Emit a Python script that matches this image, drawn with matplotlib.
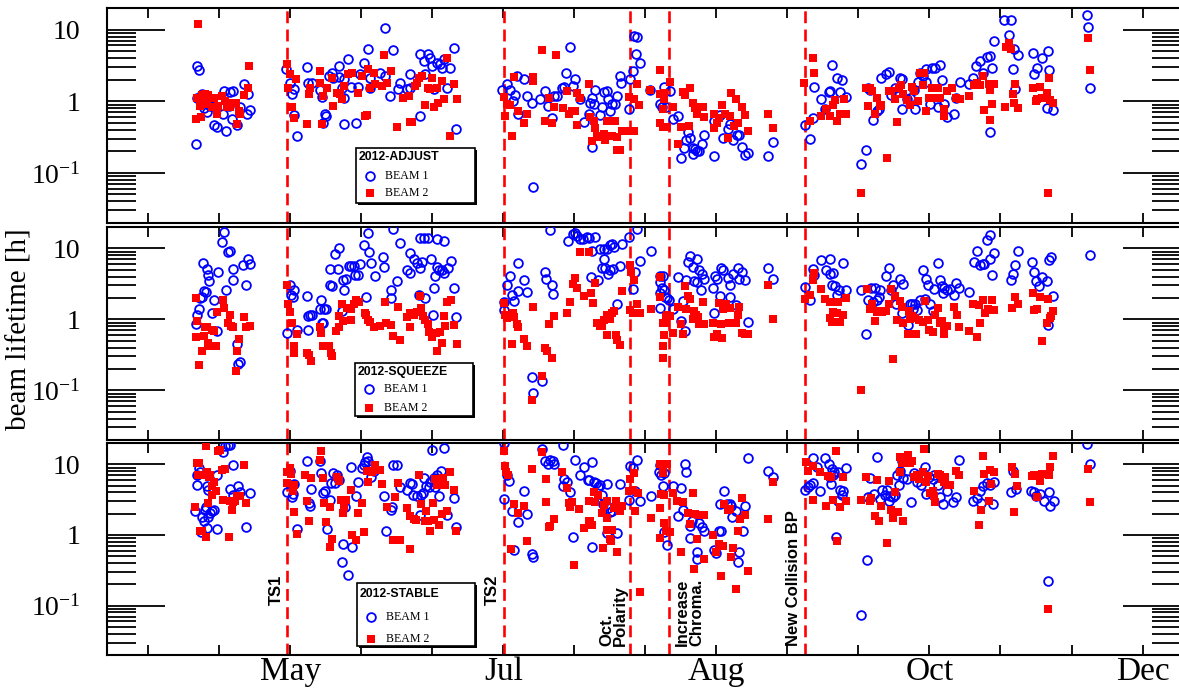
import numpy as np
import matplotlib
matplotlib.use("Agg")
import matplotlib.pyplot as plt
from matplotlib.lines import Line2D
from matplotlib.patches import Rectangle
from matplotlib.ticker import LogLocator, NullFormatter
import matplotlib.transforms as mtransforms

plt.rcParams['font.family'] = ['Liberation Serif', 'DejaVu Serif']
plt.rcParams['mathtext.fontset'] = 'custom'
plt.rcParams['mathtext.rm'] = 'Liberation Serif'
plt.rcParams['mathtext.it'] = 'Liberation Serif:italic'

# x is day of year 2012, y is beam lifetime in hours
grid_ticks = list(range(105, 320, 15))
month_ticks = [135, 180, 225, 270, 315]
month_labels = ['May', 'Jul', 'Aug', 'Oct', 'Dec']

event_days = [134.3, 180.1, 206.7, 214.9, 243.7]
event_labels = ['TS1', 'TS2', 'Oct.\nPolarity', 'Increase\nChroma.', 'New Collision BP']

panel_titles = ['2012-ADJUST', '2012-SQUEEZE', '2012-STABLE']

ADJUST_B1 = [
    (115.4, 3.1), (115.8, 2.7), (115.3, 1.12), (116.3, 1.25), (117.0, 1.2), (118.4, 0.86), (118.9, 0.47),
    (119.5, 0.44), (115.1, 0.25), (120.9, 0.66), (121.5, 0.39), (121.0, 1.39), (122.2, 1.35), (123.0, 1.4),
    (122.7, 0.57), (123.7, 0.47), (124.3, 0.82), (125.3, 1.76), (126.0, 1.28), (125.8, 0.67), (126.5, 0.75),
    (118.1, 0.85), (116.7, 0.8), (117.4, 0.7), (122.0, 0.85),
    (134.1, 2.86), (135.0, 1.82), (135.3, 1.28), (135.8, 1.47), (135.7, 0.64), (136.4, 0.33), (138.5, 3.05),
    (138.7, 1.82), (139.6, 1.82), (141.3, 1.42), (141.7, 1.15), (142.4, 0.67), (142.6, 0.62), (142.0, 0.5),
    (143.1, 2.26), (143.8, 2.5), (144.1, 2.14), (145.2, 3.1), (145.4, 2.18), (146.3, 2.03), (145.9, 1.55),
    (146.4, 1.12), (147.3, 3.85), (147.8, 1.6), (149.4, 1.6), (146.3, 0.48), (148.9, 0.5), (149.8, 2.38),
    (150.6, 3.46), (151.5, 5.3), (151.9, 2.14), (151.9, 1.55), (155.1, 10.4), (156.7, 5.15), (154.0, 2.5),
    (155.1, 2.26), (156.1, 1.19), (157.7, 1.47), (158.2, 1.82), (159.6, 1.47), (160.2, 1.55), (160.3, 2.38),
    (162.3, 0.62), (162.5, 4.5), (163.2, 3.65), (164.0, 4.6), (164.6, 4.07), (164.9, 3.1), (165.3, 1.47),
    (166.0, 3.46), (166.7, 3.28), (167.0, 2.95), (167.4, 3.85), (168.1, 1.55), (168.8, 2.89), (169.5, 5.5),
    (170.1, 0.41), (163.5, 2.38),
    (179.7, 1.42), (180.8, 1.76), (181.5, 1.42), (182.0, 1.0), (182.5, 1.23), (182.9, 2.26), (183.2, 0.67),
    (184.3, 2.03), (185.0, 1.19), (186.0, 0.96), (186.3, 0.064), (187.8, 1.07), (188.9, 1.39), (189.4, 0.86),
    (190.3, 0.58), (190.6, 1.19), (191.3, 1.19), (192.4, 1.55), (192.9, 1.58), (193.3, 2.5), (194.1, 5.7),
    (194.8, 1.64), (195.2, 2.03), (196.3, 1.07), (197.0, 0.52), (198.0, 0.67), (198.4, 0.96), (198.7, 1.12),
    (199.4, 1.42), (199.1, 0.91), (198.7, 0.23), (200.5, 0.64), (200.8, 0.83), (201.3, 1.36), (201.9, 1.39),
    (202.2, 1.07), (202.6, 0.73), (202.9, 0.91), (203.6, 0.91), (204.0, 1.19), (204.6, 2.26), (204.8, 1.82),
    (206.5, 0.77), (206.8, 2.03), (207.4, 2.65), (207.7, 8.2), (208.2, 7.9), (208.1, 4.6), (208.8, 3.46),
    (211.0, 1.42), (213.1, 0.91), (213.5, 0.82), (214.0, 1.6), (214.4, 0.82), (215.2, 1.39), (215.9, 0.56),
    (216.8, 0.62), (217.5, 0.16), (218.1, 0.226), (218.6, 0.285), (219.1, 0.37), (219.5, 0.31), (220.0, 0.226),
    (220.0, 0.186), (220.5, 0.214), (221.0, 0.2), (221.4, 0.2), (221.9, 0.25), (222.3, 0.34), (224.4, 0.17),
    (224.5, 0.53), (225.8, 0.64), (226.5, 0.31), (227.4, 0.41), (227.9, 0.48), (228.6, 0.285), (229.3, 0.34),
    (229.7, 0.34), (230.4, 0.23), (231.1, 0.18), (231.6, 0.19), (236.0, 0.17), (236.9, 0.27), (243.8, 0.47),
    (244.7, 0.30), (245.4, 0.58), (245.7, 1.6), (247.1, 1.07), (248.0, 0.77), (248.7, 1.36), (248.9, 1.39),
    (249.4, 3.21), (250.5, 2.09), (251.2, 1.36), (251.6, 1.96), (252.4, 1.15), (255.5, 0.132), (256.7, 0.21),
    (257.1, 1.55), (257.5, 1.42), (258.1, 0.54), (258.9, 0.73), (259.3, 0.77), (259.7, 2.09), (260.9, 2.38),
    (261.4, 2.6), (261.9, 1.23), (262.8, 1.55), (263.7, 2.14), (264.2, 2.03), (264.2, 0.77), (265.2, 1.07),
    (265.9, 1.12), (266.8, 1.42), (267.0, 0.77), (267.5, 1.88), (268.1, 2.5), (268.6, 2.26), (269.3, 2.8),
    (269.3, 1.88), (270.2, 0.91), (270.6, 2.95), (271.2, 2.95), (271.7, 0.82), (272.3, 3.21), (272.6, 1.96),
    (273.1, 0.91), (273.8, 0.6), (275.1, 0.66), (275.7, 1.12), (276.4, 1.88), (278.3, 1.73), (279.3, 2.14),
    (279.9, 3.1), (280.7, 3.65), (281.4, 2.5), (282.1, 4.15), (282.7, 4.3), (283.2, 2.95), (282.7, 0.37),
    (283.7, 6.9), (285.8, 13.5), (287.2, 13.5), (286.8, 8.4), (287.9, 5.3), (288.6, 4.43), (287.6, 2.86),
    (288.1, 1.47), (291.9, 4.77), (292.1, 2.43), (292.7, 2.95), (293.8, 4.07), (295.0, 5.0), (295.2, 2.7),
    (294.8, 0.8), (296.1, 0.75), (303.3, 16.0), (303.4, 10.7), (304.0, 1.55),
]

ADJUST_B2 = [
    (115.5, 11.9), (115.1, 0.57), (115.3, 1.12), (116.3, 1.22), (117.0, 1.28), (117.7, 1.22), (116.0, 0.86),
    (116.7, 1.0), (117.4, 0.91), (118.1, 1.12), (118.8, 1.12), (118.4, 0.82), (119.5, 0.67), (119.8, 0.86),
    (120.5, 1.2), (121.3, 1.02), (121.7, 0.91), (122.3, 0.82), (122.7, 0.94), (123.6, 0.96), (123.7, 0.48),
    (124.1, 0.72), (124.4, 0.66), (125.3, 1.23), (126.0, 1.55), (126.3, 3.1), (116.2, 0.6), (121.6, 0.82),
    (134.3, 3.35), (135.0, 2.38), (134.6, 1.55), (135.3, 0.82), (135.8, 0.59), (136.3, 2.03), (138.5, 0.48),
    (138.9, 1.25), (139.2, 1.55), (141.3, 2.65), (141.7, 0.48), (141.2, 1.82), (142.0, 1.19), (142.7, 1.55),
    (143.8, 2.09), (144.1, 0.86), (144.8, 1.32), (145.6, 1.25), (145.9, 1.07), (146.3, 1.64), (147.3, 2.38),
    (148.0, 2.5), (149.4, 1.32), (150.1, 2.26), (150.8, 0.62), (151.2, 0.64), (151.5, 2.86), (151.9, 1.55),
    (152.6, 2.5), (152.9, 1.73), (154.7, 4.45), (154.4, 1.64), (155.4, 1.82), (156.3, 2.65), (157.5, 0.44),
    (158.9, 1.12), (160.0, 1.19), (160.3, 0.51), (160.7, 0.51), (161.4, 1.64), (161.8, 1.82), (162.1, 2.09),
    (162.8, 2.26), (163.5, 0.89), (164.0, 1.55), (164.6, 1.47), (164.9, 2.14), (165.3, 0.82), (166.0, 1.55),
    (166.3, 0.96), (167.0, 1.92), (167.5, 1.07), (168.1, 4.07), (168.8, 0.33), (169.6, 1.76), (170.2, 1.07),
    (180.2, 1.15), (180.4, 0.62), (180.8, 0.91), (181.5, 0.89), (181.8, 0.33), (182.3, 2.18), (183.2, 0.72),
    (184.3, 0.49), (185.0, 0.66), (186.3, 2.18), (186.3, 1.92), (188.2, 5.2), (188.9, 0.53), (189.6, 1.1),
    (190.3, 0.5), (190.6, 0.83), (191.2, 4.4), (192.7, 0.8), (193.4, 1.39), (193.8, 0.66), (194.5, 0.72),
    (195.2, 0.73), (195.5, 0.47), (195.5, 1.32), (196.3, 1.12), (198.0, 1.76), (198.4, 0.6), (198.7, 0.28),
    (199.2, 0.53), (199.4, 0.42), (199.8, 0.33), (200.5, 0.32), (201.2, 0.35), (201.5, 0.29), (201.9, 0.53),
    (202.6, 0.53), (202.9, 0.33), (203.6, 0.53), (204.0, 0.21), (204.7, 0.21), (204.1, 0.32), (205.1, 0.39),
    (206.5, 1.15), (206.8, 0.39), (207.5, 0.39), (208.2, 1.76), (208.6, 0.89), (207.5, 1.07),
    (211.0, 1.42), (213.0, 2.7), (213.1, 1.25), (213.1, 0.5), (213.7, 0.44), (214.0, 1.32), (214.0, 1.07),
    (213.8, 0.77), (214.5, 0.44), (215.1, 1.88), (215.9, 0.84), (216.8, 0.25), (217.5, 0.44), (217.9, 1.36),
    (218.4, 1.23), (219.3, 0.45), (219.5, 1.55), (220.0, 0.94), (220.5, 0.8), (220.9, 0.66), (221.4, 0.83),
    (222.1, 0.83), (222.3, 0.6), (224.4, 0.66), (224.5, 0.42), (225.1, 0.5), (225.5, 0.58), (226.2, 0.89),
    (226.9, 0.66), (227.4, 0.31), (227.9, 0.62), (228.1, 1.32), (228.8, 0.45), (229.2, 1.07), (229.5, 0.5),
    (230.4, 0.82), (231.1, 0.64), (231.6, 0.39), (236.0, 0.66), (236.9, 0.43), (243.5, 1.82), (244.7, 0.53),
    (245.4, 4.07), (245.7, 2.5), (247.1, 0.62), (248.2, 0.77), (249.0, 0.62), (249.7, 0.89), (250.1, 1.03),
    (250.5, 0.53), (251.2, 0.66), (251.9, 1.07), (252.4, 0.67), (255.5, 0.052), (256.7, 1.55), (257.4, 1.52),
    (257.1, 0.86), (257.8, 1.39), (258.5, 0.67), (259.0, 1.1), (259.5, 0.86), (259.7, 0.89), (261.0, 0.164),
    (261.4, 1.39), (261.9, 1.39), (262.8, 1.07), (263.1, 0.52), (263.5, 1.55), (264.0, 1.69), (264.5, 1.25),
    (265.2, 1.03), (265.8, 0.88), (266.3, 1.58), (266.8, 1.39), (267.5, 1.0), (267.9, 2.5), (268.6, 1.69),
    (268.9, 2.5), (269.3, 0.72), (270.0, 1.1), (270.5, 1.55), (271.2, 1.1), (271.7, 1.55), (272.3, 1.1),
    (273.0, 0.77), (273.1, 0.62), (273.8, 1.39), (274.7, 1.55), (275.7, 1.1), (276.4, 1.07), (278.3, 1.19),
    (279.5, 1.69), (280.0, 1.82), (280.7, 1.69), (281.4, 2.26), (281.6, 0.75), (282.7, 0.54), (282.7, 1.42),
    (283.2, 0.91), (282.5, 1.76), (283.7, 1.73), (286.0, 0.83), (286.2, 5.7), (286.9, 6.4), (287.2, 5.3),
    (287.6, 1.25), (287.9, 0.96), (288.1, 1.76), (288.6, 0.8), (291.9, 1.52), (292.4, 1.0), (292.7, 1.07),
    (293.4, 1.6), (293.8, 1.12), (294.8, 1.32), (295.2, 2.14), (295.5, 1.03), (296.1, 0.94), (295.0, 0.052),
    (303.4, 7.6), (304.0, 2.7),
]

SQUEEZE_B1 = [
    (115.1, 0.85), (115.3, 1.14), (115.8, 1.41), (116.0, 2.0), (116.3, 2.07), (116.7, 2.49), (117.2, 2.4),
    (116.5, 6.3), (117.4, 5.1), (117.7, 4.25), (117.9, 3.43), (118.9, 1.86), (118.4, 1.24), (119.6, 0.69),
    (119.8, 4.7), (120.6, 12.4), (121.0, 17.1), (121.8, 9.0), (122.3, 9.3), (121.5, 2.57), (122.9, 5.1),
    (122.9, 3.6), (123.7, 0.45), (123.9, 0.236), (124.3, 0.25), (125.7, 3.08), (125.1, 5.85), (126.0, 7.2),
    (126.5, 6.05),
    (134.3, 0.64), (134.9, 3.08), (135.1, 2.23), (135.8, 2.57), (135.6, 2.07), (136.4, 0.72), (138.5, 2.16),
    (138.7, 1.11), (139.2, 1.14), (139.6, 1.14), (138.7, 0.71), (141.3, 1.38), (141.5, 1.86), (142.2, 1.38),
    (142.6, 1.38), (141.7, 0.9), (142.0, 0.9), (143.4, 3.08), (143.8, 2.98), (143.3, 5.1), (144.5, 8.3),
    (145.2, 10.0), (145.0, 5.1), (146.1, 3.6), (146.4, 2.57), (145.9, 1.31), (146.8, 3.69), (147.5, 5.66),
    (147.8, 5.66), (148.4, 5.66), (148.7, 4.25), (149.4, 4.25), (149.8, 6.05), (150.6, 11.1), (151.4, 16.5),
    (151.7, 9.0), (152.0, 6.3), (152.9, 4.02), (151.0, 2.07), (154.6, 7.5), (154.9, 5.4), (156.7, 19.0),
    (157.5, 3.43), (156.3, 2.57), (156.3, 2.0), (158.2, 12.0), (159.6, 4.88), (160.3, 4.47), (160.2, 8.5),
    (161.2, 7.0), (161.8, 6.2), (162.3, 5.26), (162.8, 6.5), (162.5, 13.8), (163.3, 13.8), (164.0, 14.2),
    (164.7, 7.2), (165.3, 2.77), (165.1, 1.17), (165.6, 4.1), (166.0, 5.4), (166.1, 13.4), (166.5, 4.88),
    (167.0, 5.0), (167.5, 12.8), (167.5, 4.47), (168.4, 5.26), (168.9, 6.7), (169.6, 2.77), (170.1, 1.09),
    (162.1, 2.23), (163.5, 2.0),
    (180.1, 1.35), (180.2, 1.75), (180.8, 3.08), (181.5, 4.1), (181.8, 2.23), (182.3, 1.8), (183.0, 6.3),
    (183.2, 2.49), (184.3, 3.54), (185.1, 2.4), (186.0, 0.154), (186.3, 0.093), (188.2, 0.134), (188.9, 4.7),
    (189.1, 3.69), (189.8, 18.0), (190.3, 3.08), (190.5, 2.3), (193.6, 12.8), (194.7, 15.8), (195.2, 16.5),
    (195.5, 14.9), (196.3, 13.4), (196.8, 13.4), (197.7, 14.5), (198.0, 13.8), (199.4, 14.5), (198.7, 9.3),
    (198.5, 3.94), (199.9, 3.54), (200.5, 9.7), (201.2, 9.7), (201.3, 7.2), (201.9, 9.7), (202.5, 11.1),
    (202.9, 11.5), (203.3, 10.3), (204.0, 1.62), (204.7, 5.66), (205.1, 11.7), (200.8, 5.26), (201.5, 5.26),
    (202.2, 4.39), (202.6, 4.98), (203.2, 5.1), (206.5, 14.5), (207.4, 2.68), (207.9, 4.7), (208.2, 19.0),
    (208.8, 6.65),
    (211.2, 9.3), (213.0, 4.1), (213.7, 4.1), (213.0, 3.32), (213.1, 2.36), (213.5, 2.77), (214.0, 2.62),
    (214.2, 2.07), (214.5, 2.0), (214.9, 1.86), (213.0, 1.45), (215.9, 1.41), (216.8, 3.94), (217.5, 0.95),
    (217.9, 1.8), (218.4, 0.69), (218.6, 3.61), (219.1, 6.5), (219.5, 7.8), (220.0, 5.4), (220.3, 3.43),
    (220.9, 7.0), (221.0, 3.32), (221.4, 4.98), (221.7, 2.62), (221.9, 4.39), (222.3, 3.69), (224.3, 2.77),
    (224.5, 1.24), (224.7, 4.1), (225.2, 3.69), (225.8, 2.12), (225.9, 5.26), (226.5, 4.98), (227.4, 3.81),
    (227.8, 2.07), (227.9, 3.08), (228.5, 4.39), (229.2, 1.57), (229.5, 5.26), (229.7, 3.69), (230.4, 4.7),
    (231.1, 3.54), (231.6, 0.92), (236.0, 5.26), (236.9, 3.69), (243.8, 2.86), (244.7, 1.9), (245.4, 5.1),
    (245.7, 4.25), (247.1, 6.9), (248.2, 4.88), (248.9, 7.2), (249.0, 4.39), (249.6, 4.57), (249.4, 3.08),
    (250.1, 2.92), (250.5, 2.23), (251.0, 2.62), (251.7, 6.3), (252.4, 2.62), (255.5, 2.57), (256.7, 0.62),
    (257.1, 1.86), (257.6, 2.77), (258.1, 1.75), (258.5, 2.77), (259.0, 1.86), (259.3, 2.07), (259.6, 2.62),
    (260.9, 4.1), (261.4, 5.26), (261.9, 2.57), (262.4, 3.08), (263.0, 1.62), (263.7, 3.69), (264.5, 3.18),
    (264.2, 1.21), (265.4, 0.82), (265.8, 1.67), (266.3, 1.67), (266.5, 1.38), (267.0, 1.67), (267.3, 1.35),
    (267.9, 1.86), (268.6, 4.88), (269.1, 1.94), (269.3, 3.69), (269.6, 3.08), (270.2, 1.67), (270.7, 1.31),
    (271.0, 2.68), (271.7, 6.2), (272.3, 3.61), (272.6, 2.92), (272.8, 2.36), (273.1, 2.77), (273.7, 2.62),
    (274.3, 2.68), (275.1, 2.23), (275.7, 3.25), (276.2, 2.77), (278.3, 2.4), (279.5, 6.5), (280.0, 9.3),
    (280.6, 5.85), (281.3, 6.05), (281.6, 6.05), (282.1, 13.1), (282.7, 15.3), (282.8, 7.0), (283.2, 4.25),
    (283.7, 8.5), (287.2, 3.54), (287.6, 4.39), (288.1, 5.85), (288.6, 9.3), (291.7, 6.5), (292.1, 4.7),
    (292.6, 3.43), (293.1, 2.98), (293.8, 3.94), (294.8, 3.43), (295.0, 0.82), (295.2, 6.9), (295.7, 7.5),
    (296.1, 2.16), (304.0, 8.1),
]

SQUEEZE_B2 = [
    (115.1, 2.0), (115.4, 0.95), (115.1, 0.56), (116.3, 0.36), (116.7, 0.59), (117.0, 0.77), (117.7, 0.47),
    (117.9, 0.42), (118.4, 0.72), (118.9, 0.69), (119.4, 0.42), (119.5, 1.27), (120.8, 1.86), (121.0, 1.45),
    (121.8, 0.9), (122.2, 1.17), (122.5, 0.81), (123.7, 0.36), (124.1, 0.53), (123.6, 0.185), (123.0, 0.77),
    (125.3, 1.09), (125.7, 0.79), (126.4, 0.81), (115.8, 0.23), (117.4, 0.78),
    (134.3, 3.08), (134.6, 1.62), (135.0, 1.27), (135.3, 0.9), (135.8, 0.42), (135.8, 0.34), (136.4, 0.62),
    (138.5, 0.335), (138.9, 0.31), (139.4, 0.26), (141.3, 0.77), (141.5, 0.64), (141.9, 0.42), (142.6, 0.42),
    (143.1, 0.42), (143.6, 0.335), (143.8, 0.30), (144.7, 0.69), (145.2, 0.77), (145.2, 1.11), (145.9, 1.62),
    (146.1, 0.95), (147.0, 1.45), (147.8, 0.98), (147.8, 1.38), (148.4, 1.67), (148.9, 1.86), (149.6, 1.75),
    (150.8, 1.21), (151.0, 1.14), (151.5, 0.98), (151.9, 0.92), (152.6, 0.79), (154.0, 0.81), (155.1, 1.75),
    (155.3, 0.88), (156.3, 0.82), (156.7, 0.59), (157.7, 1.5), (158.2, 0.51), (159.6, 1.09), (160.3, 0.77),
    (160.3, 1.21), (161.2, 1.17), (161.8, 1.27), (162.3, 2.12), (162.6, 1.45), (163.0, 1.11), (163.5, 0.98),
    (164.0, 0.85), (164.4, 0.67), (164.9, 0.56), (165.3, 0.65), (165.8, 0.64), (166.0, 0.36), (166.7, 0.67),
    (167.0, 0.47), (167.5, 1.11), (167.7, 0.81), (168.1, 1.75), (168.9, 1.86), (169.6, 0.82), (170.2, 0.45),
    (180.1, 1.71), (180.4, 1.14), (180.8, 1.05), (181.6, 1.14), (182.0, 1.21), (182.3, 1.09), (182.9, 0.85),
    (183.2, 0.77), (181.8, 0.45), (184.3, 0.53), (185.1, 0.42), (186.0, 0.073), (186.3, 1.5), (188.2, 0.16),
    (188.9, 0.39), (189.2, 0.36), (189.6, 0.85), (190.3, 0.29), (190.6, 1.11), (193.4, 1.21), (194.1, 1.75),
    (194.8, 3.18), (195.2, 3.81), (195.5, 2.77), (196.3, 9.0), (197.0, 2.16), (198.0, 9.0), (198.5, 2.36),
    (198.9, 1.71), (199.4, 3.25), (199.8, 0.9), (200.5, 0.81), (200.8, 0.81), (201.3, 0.98), (201.8, 1.17),
    (202.6, 1.0), (202.9, 1.21), (203.3, 1.31), (201.8, 0.6), (203.9, 0.6), (204.1, 0.51), (204.7, 0.43),
    (205.1, 2.49), (206.7, 5.85), (207.0, 4.7), (207.5, 3.54), (206.8, 1.35), (207.4, 1.24), (208.2, 1.62),
    (208.9, 1.24),
    (213.0, 3.94), (213.1, 2.07), (213.7, 0.88), (214.2, 0.9), (214.4, 1.09), (214.0, 0.6), (213.7, 0.42),
    (213.7, 0.29), (214.5, 1.17), (215.1, 1.11), (211.2, 1.41), (215.9, 0.65), (216.8, 1.5), (217.5, 0.85),
    (217.9, 0.62), (218.4, 2.92), (218.6, 1.41), (219.1, 2.12), (219.5, 1.94), (220.0, 1.0), (220.3, 1.31),
    (220.7, 1.14), (221.2, 1.09), (221.4, 0.85), (222.1, 1.75), (222.3, 0.85), (224.3, 0.88), (224.5, 0.56),
    (225.1, 0.62), (225.5, 1.71), (225.9, 0.85), (226.2, 0.54), (226.5, 1.38), (227.1, 1.67), (227.6, 0.9),
    (227.9, 1.45), (228.5, 0.88), (229.2, 0.88), (229.5, 1.17), (229.7, 1.5), (230.4, 0.65), (231.1, 0.62),
    (231.6, 0.62), (236.0, 3.08), (236.9, 1.02), (243.8, 1.94), (244.7, 2.23), (245.4, 3.54), (245.7, 4.47),
    (247.1, 2.68), (248.0, 1.94), (248.9, 1.75), (249.0, 1.05), (249.4, 0.92), (249.7, 1.27), (250.5, 1.21),
    (250.6, 1.75), (251.2, 0.92), (251.7, 1.17), (252.4, 2.0), (255.5, 0.10), (256.8, 2.68), (257.4, 1.38),
    (257.8, 1.67), (258.5, 0.95), (258.9, 1.27), (259.5, 1.31), (260.0, 1.27), (260.9, 1.31), (261.4, 1.62),
    (261.9, 2.68), (262.3, 0.28), (262.8, 2.16), (263.1, 0.98), (263.7, 1.8), (264.2, 1.5), (264.5, 0.88),
    (265.4, 0.62), (265.6, 1.31), (265.9, 1.02), (266.3, 1.11), (267.0, 1.05), (267.2, 0.62), (267.7, 0.98),
    (268.6, 0.92), (269.1, 1.8), (269.6, 0.98), (270.0, 0.71), (270.7, 0.67), (271.2, 1.14), (271.7, 1.45),
    (272.3, 0.9), (272.6, 0.95), (273.0, 0.71), (273.1, 0.62), (273.8, 0.81), (275.1, 1.5), (275.8, 1.14),
    (276.2, 0.79), (278.3, 0.69), (279.3, 1.67), (280.0, 0.57), (280.4, 1.57), (280.7, 0.88), (281.4, 1.9),
    (281.8, 1.21), (282.3, 1.38), (282.8, 1.35), (283.2, 1.9), (283.7, 1.35), (287.4, 1.45), (288.1, 2.07),
    (288.6, 1.67), (291.9, 2.36), (292.1, 1.35), (292.7, 1.41), (293.3, 2.07), (293.8, 0.5), (294.8, 0.88),
    (295.0, 1.94), (295.4, 1.05), (295.7, 1.11), (296.1, 1.31),
]

STABLE_B1 = [
    (114.9, 2.19), (115.3, 5.1), (115.4, 7.1), (115.8, 8.9), (116.0, 7.8), (116.3, 1.82), (116.7, 1.55),
    (117.0, 2.27), (117.2, 2.45), (117.7, 1.82), (118.1, 2.03), (118.4, 2.19), (118.8, 2.27), (117.4, 5.0),
    (117.7, 4.3), (117.4, 1.27), (116.1, 1.09), (119.5, 1.22), (119.6, 7.1), (120.8, 15.0), (121.3, 18.0),
    (121.8, 19.0), (122.2, 18.5), (122.2, 4.4), (122.9, 9.7), (122.9, 3.7), (123.9, 4.87), (124.3, 4.0),
    (125.7, 1.31), (126.4, 3.9),
    (134.3, 4.04), (134.9, 8.1), (135.3, 3.4), (135.6, 3.8), (135.8, 5.25), (136.5, 1.22), (138.5, 11.0),
    (138.9, 2.82), (139.1, 2.6), (139.4, 4.5), (141.3, 11.3), (141.5, 7.5), (142.0, 3.9), (142.4, 4.2),
    (142.7, 1.22), (143.3, 3.15), (143.6, 5.4), (144.0, 7.5), (144.5, 5.4), (144.8, 7.1), (145.2, 6.05),
    (146.1, 0.74), (145.9, 0.42), (146.6, 2.45), (147.3, 0.27), (147.8, 9.1), (148.0, 0.68), (148.9, 3.5),
    (149.4, 5.6), (150.1, 8.9), (150.5, 9.9), (150.8, 10.8), (151.2, 12.6), (151.5, 11.0), (152.0, 6.5),
    (152.7, 8.1), (154.9, 3.6), (155.3, 1.14), (156.3, 2.27), (156.5, 2.45), (156.7, 9.7), (157.5, 9.7),
    (158.1, 4.7), (159.6, 4.36), (160.2, 5.4), (160.7, 5.25), (161.0, 3.7), (161.8, 3.6), (162.3, 1.92),
    (162.6, 3.7), (163.0, 3.9), (163.3, 6.4), (163.7, 4.87), (164.2, 4.7), (164.6, 5.6), (164.9, 16.0),
    (165.3, 6.4), (165.6, 4.7), (166.1, 7.1), (166.5, 3.6), (166.8, 8.1), (167.4, 17.0), (168.2, 1.92),
    (169.5, 3.3), (170.1, 1.31),
    (180.2, 20.1), (180.2, 3.25), (180.8, 7.1), (181.3, 5.85), (181.8, 2.19), (182.3, 0.61), (183.0, 1.51),
    (184.3, 4.2), (185.0, 1.97), (186.0, 0.54), (186.3, 0.49), (188.2, 16.7), (188.9, 11.3), (189.4, 10.1),
    (189.8, 11.6), (190.6, 10.1), (190.5, 11.0), (192.7, 19.0), (192.9, 6.25), (193.4, 5.6), (192.7, 4.87),
    (194.1, 4.1), (194.8, 0.95), (195.2, 11.6), (196.3, 7.1), (197.0, 9.1), (197.8, 6.05), (198.2, 6.05),
    (198.7, 10.6), (198.7, 0.68), (199.1, 5.7), (199.6, 5.4), (199.9, 4.7), (200.5, 5.1), (200.8, 3.7),
    (201.0, 2.73), (201.8, 5.25), (201.9, 1.06), (202.2, 2.4), (202.6, 2.1), (202.9, 2.19), (203.6, 2.6),
    (204.0, 1.06), (204.6, 5.25), (206.5, 3.15), (206.8, 9.4), (207.4, 8.9), (207.9, 4.13), (208.2, 11.6),
    (208.8, 3.05),
    (211.2, 3.6), (213.0, 9.7), (212.8, 7.7), (213.3, 7.0), (213.7, 5.0), (214.0, 7.5), (214.0, 1.09),
    (214.5, 0.72), (215.8, 4.87), (216.8, 1.88), (217.5, 4.6), (217.9, 2.27), (218.4, 10.1), (218.6, 7.7),
    (219.5, 1.36), (219.8, 1.55), (219.5, 0.9), (220.9, 0.57), (221.0, 0.46), (221.4, 1.46), (221.9, 1.31),
    (222.3, 1.12), (224.4, 0.61), (225.0, 0.55), (225.5, 1.12), (225.9, 1.12), (226.6, 4.13), (225.7, 2.73),
    (227.2, 2.73), (227.8, 2.73), (228.1, 2.53), (228.3, 1.82), (229.2, 2.15), (229.7, 0.58), (229.5, 0.42),
    (230.6, 1.12), (231.1, 2.6), (231.6, 12.3), (236.0, 8.1), (236.9, 6.5), (243.8, 4.36), (244.3, 4.8),
    (244.8, 5.1), (245.5, 5.4), (245.4, 12.3), (246.2, 9.1), (246.9, 4.2), (248.0, 12.3), (248.7, 10.1),
    (249.4, 8.7), (249.7, 7.1), (249.2, 5.25), (248.9, 6.5), (249.9, 7.7), (250.6, 7.7), (251.2, 4.36),
    (251.5, 3.7), (251.7, 4.13), (250.6, 3.0), (250.3, 0.92), (252.4, 8.9), (256.8, 0.44), (255.5, 0.074),
    (257.1, 3.4), (257.5, 6.4), (258.2, 3.8), (259.0, 12.6), (259.5, 3.25), (260.0, 4.36), (260.7, 3.7),
    (261.0, 4.36), (261.7, 3.5), (261.4, 3.05), (262.4, 3.4), (262.8, 3.7), (263.5, 5.1), (263.1, 7.1),
    (263.8, 8.1), (264.2, 11.3), (264.5, 6.4), (265.2, 6.25), (266.1, 2.9), (266.8, 7.5), (267.3, 5.6),
    (267.9, 6.5), (268.2, 5.1), (269.1, 9.2), (269.3, 3.8), (270.0, 6.5), (270.9, 7.0), (270.7, 6.25),
    (271.7, 5.1), (272.3, 3.4), (272.8, 2.73), (273.7, 4.13), (275.0, 2.9), (275.7, 3.4), (276.2, 11.6),
    (279.3, 3.05), (280.0, 3.3), (280.6, 4.13), (280.9, 2.82), (281.4, 4.87), (282.1, 5.4), (282.8, 5.1),
    (283.4, 2.73), (283.7, 5.6), (287.2, 4.0), (287.6, 8.1), (288.3, 4.5), (291.4, 4.13), (292.0, 4.0),
    (292.6, 3.6), (293.4, 3.8), (294.1, 3.05), (295.2, 4.0), (295.5, 2.6), (296.2, 2.98), (295.0, 0.22),
    (303.3, 19.4), (304.0, 10.0),
]

STABLE_B2 = [
    (114.9, 2.45), (115.3, 10.4), (115.8, 10.4), (116.0, 1.12), (116.3, 1.12), (117.2, 0.95), (115.6, 7.1),
    (116.3, 7.1), (117.4, 7.9), (118.1, 7.1), (117.9, 6.7), (118.4, 4.87), (118.4, 3.7), (117.7, 2.82),
    (118.9, 5.7), (119.4, 4.13), (119.8, 15.6), (120.2, 15.8), (117.2, 18.0), (120.6, 8.4), (121.3, 8.7),
    (120.9, 3.15), (122.3, 2.98), (122.7, 2.27), (123.0, 2.9), (123.4, 2.98), (123.7, 3.5), (124.3, 3.6),
    (125.3, 9.9), (125.7, 2.82), (122.0, 0.95),
    (134.3, 5.4), (134.4, 7.7), (134.9, 8.9), (135.1, 7.3), (135.6, 4.13), (135.8, 5.1), (135.8, 2.1),
    (136.4, 1.02), (138.2, 7.1), (138.5, 3.0), (138.9, 1.58), (139.4, 6.4), (141.3, 11.6), (141.5, 15.6),
    (141.9, 6.4), (142.2, 2.82), (142.6, 1.51), (143.4, 2.45), (143.8, 0.88), (143.3, 0.68), (144.8, 6.6),
    (145.2, 6.05), (145.4, 5.8), (145.7, 3.15), (146.1, 2.03), (146.4, 2.45), (146.8, 3.15), (147.8, 4.3),
    (148.0, 1.0), (148.9, 0.85), (149.4, 2.03), (150.1, 2.82), (150.6, 1.09), (151.2, 8.1), (151.5, 5.6),
    (152.2, 7.8), (152.9, 9.7), (154.0, 8.3), (154.4, 5.2), (155.4, 2.45), (156.8, 0.85), (158.1, 0.85),
    (157.2, 3.4), (157.7, 5.4), (159.6, 2.4), (160.3, 0.63), (160.2, 1.88), (161.2, 1.69), (161.6, 1.63),
    (162.1, 7.0), (162.6, 2.73), (163.5, 1.55), (163.7, 2.15), (164.0, 1.6), (164.6, 1.15), (165.1, 2.82),
    (165.3, 1.64), (165.6, 6.25), (166.1, 5.1), (166.5, 1.4), (167.0, 2.0), (167.2, 6.4), (167.7, 5.1),
    (168.1, 2.19), (168.8, 7.9), (169.6, 4.36), (170.1, 1.12),
    (180.1, 15.6), (180.4, 9.4), (180.6, 7.9), (180.9, 7.1), (181.6, 0.63), (182.3, 2.73), (183.2, 2.03),
    (184.3, 2.53), (185.0, 0.82), (186.0, 8.7), (188.2, 15.0), (189.1, 6.1), (189.1, 2.9), (189.6, 1.31),
    (189.9, 1.36), (190.6, 1.69), (192.4, 7.7), (193.4, 4.6), (193.8, 2.82), (194.0, 2.45), (194.5, 2.9),
    (195.0, 0.37), (195.9, 2.3), (197.0, 1.24), (198.0, 3.05), (198.0, 1.6), (198.4, 1.55), (198.7, 1.39),
    (199.2, 4.04), (199.4, 2.9), (200.1, 3.7), (200.8, 2.03), (201.2, 2.67), (201.8, 3.05), (201.9, 1.73),
    (202.0, 1.18), (202.6, 0.88), (202.7, 0.82), (202.9, 1.18), (203.3, 2.4), (203.9, 3.05), (204.0, 0.58),
    (204.7, 2.15), (205.1, 2.53), (206.5, 4.2), (206.8, 6.25), (207.4, 4.3), (207.5, 7.5), (207.9, 2.19),
    (208.4, 3.95), (208.9, 0.156), (201.0, 0.65),
    (211.2, 1.76), (213.0, 10.1), (213.3, 3.8), (213.1, 2.4), (213.0, 0.9), (213.7, 8.4), (213.8, 7.6),
    (214.0, 3.7), (214.0, 1.46), (214.5, 10.1), (214.4, 1.12), (215.1, 1.09), (215.8, 3.9), (216.6, 3.05),
    (217.5, 0.57), (217.9, 2.9), (219.1, 2.03), (219.5, 1.42), (220.0, 3.9), (220.3, 0.33), (220.5, 1.97),
    (221.0, 0.88), (221.4, 1.94), (222.3, 1.94), (222.3, 0.45), (224.3, 1.0), (225.0, 0.58), (225.5, 0.74),
    (225.9, 0.26), (226.4, 0.7), (226.6, 2.73), (227.4, 2.27), (227.8, 2.3), (228.1, 0.49), (228.6, 0.65),
    (229.2, 0.17), (229.5, 1.12), (229.9, 1.69), (230.4, 3.3), (231.1, 1.94), (231.6, 0.31), (236.0, 1.69),
    (236.9, 5.6), (244.0, 10.6), (244.3, 8.1), (245.5, 9.4), (245.4, 3.15), (246.8, 7.8), (248.2, 2.53),
    (248.5, 6.8), (249.2, 6.5), (249.6, 3.15), (250.3, 15.3), (250.5, 0.82), (251.2, 2.45), (251.7, 6.6),
    (252.4, 2.98), (255.5, 3.1), (256.7, 6.6), (257.5, 3.05), (257.6, 3.3), (258.5, 1.88), (259.3, 1.55),
    (259.0, 5.9), (259.7, 2.6), (261.0, 0.78), (261.4, 5.8), (261.9, 2.27), (262.4, 1.73), (262.8, 4.0),
    (263.3, 2.1), (263.8, 7.9), (264.4, 1.55), (263.7, 12.5), (264.2, 10.4), (265.4, 13.7), (265.8, 10.4),
    (266.3, 11.3), (266.8, 6.7), (267.3, 7.1), (267.7, 6.25), (268.6, 7.7), (268.9, 16.7), (269.3, 5.7),
    (269.6, 6.9), (270.2, 3.9), (270.7, 4.2), (271.0, 3.6), (271.2, 2.9), (271.7, 7.3), (272.3, 7.1),
    (272.6, 6.25), (273.0, 5.6), (273.3, 6.7), (273.7, 5.1), (274.4, 5.1), (275.7, 8.1), (276.2, 7.1),
    (279.5, 4.2), (280.4, 1.39), (280.9, 2.27), (281.4, 13.0), (281.6, 7.3), (282.5, 3.05), (282.8, 8.3),
    (283.0, 5.2), (283.7, 7.7), (287.4, 9.1), (287.9, 2.1), (288.1, 7.4), (288.5, 4.9), (291.7, 6.9),
    (292.1, 7.1), (292.7, 3.4), (293.3, 5.8), (293.8, 7.4), (295.0, 0.09), (295.2, 7.1), (295.5, 9.2),
    (296.1, 13.0), (303.4, 8.6), (304.0, 2.92),
]

W, H = 1179, 695
SERIF = 'Liberation Serif'
SANS = 'Liberation Sans'


def fig_xy(x, y):
    return x / W, 1 - y / H


def draw_key(fig, title, box, rows):
    left, top, width, height = box
    # ROOT style box with a small drop shadow
    x0, y0 = fig_xy(left + 2, top + height + 2)
    fig.add_artist(Rectangle((x0, y0), width / W, height / H, transform=fig.transFigure,
                             facecolor='black', edgecolor='none', zorder=4))
    x0, y0 = fig_xy(left, top + height)
    fig.add_artist(Rectangle((x0, y0), width / W, height / H, transform=fig.transFigure,
                             facecolor='white', edgecolor='black', lw=1.2, zorder=5))
    fig.text(*fig_xy(left + 3, top + rows[0]), title, family=SANS, weight='bold',
             fontsize=8.8, va='center', ha='left', zorder=6)
    styles = [dict(marker='o', mfc='none', mec='blue', ms=6.3, mew=1.3),
              dict(marker='s', mfc='red', mec='red', ms=5.2, mew=0)]
    for name, dy, st in zip(['BEAM 1', 'BEAM 2'], rows[1:], styles):
        mx, my = fig_xy(left + 14, top + dy)
        fig.add_artist(Line2D([mx], [my], transform=fig.transFigure, ls='none', zorder=6, **st))
        fig.text(*fig_xy(left + 29, top + dy), name, family=SERIF, fontsize=8.6,
                 va='center', ha='left', zorder=6)


def draw_panel(ax, b1, b2, show_months):
    d1, t1 = np.array(b1).T
    d2, t2 = np.array(b2).T
    ax.plot(d1, t1, ls='none', marker='o', mfc='none', mec='blue', ms=6.3, mew=1.3, zorder=3)
    ax.plot(d2, t2, ls='none', marker='s', mfc='red', mec='red', ms=5.2, mew=0, zorder=3)
    for d in event_days:
        ax.axvline(d, color='red', lw=1.9, ls=(0, (4.5, 2.4)), zorder=2)

    ax.set_yscale('log')
    ax.set_ylim(0.02, 20)
    ax.set_xlim(96.3, 323.2)
    ax.set_yticks([0.1, 1, 10], labels=['$10^{-1}$', '1', '10'])
    ax.yaxis.set_minor_locator(LogLocator(base=10, subs=np.arange(2, 10)))
    ax.yaxis.set_minor_formatter(NullFormatter())
    labels = [month_labels[month_ticks.index(t)] if (show_months and t in month_ticks) else ''
              for t in grid_ticks]
    ax.set_xticks(grid_ticks, labels=labels)
    ax.tick_params(axis='x', which='major', direction='in', length=7.5, width=1.3,
                   top=True, bottom=True, labelsize=24, pad=1)
    ax.tick_params(axis='x', which='minor', bottom=False, top=False)
    ax.tick_params(axis='y', which='major', direction='in', length=42, width=1.3,
                   left=True, right=True, labelsize=20, pad=19)
    ax.tick_params(axis='y', which='minor', direction='in', length=21, width=1.3,
                   left=True, right=True)
    for sp in ax.spines.values():
        sp.set_linewidth(1.5)


if __name__ == "__main__":
    fig = plt.figure(figsize=(W / 100, H / 100), dpi=100)
    panel_px = [(8, 223), (227, 440), (443, 655)]
    series = [(ADJUST_B1, ADJUST_B2), (SQUEEZE_B1, SQUEEZE_B2), (STABLE_B1, STABLE_B2)]
    axes = []
    for i, ((top, bot), (b1, b2)) in enumerate(zip(panel_px, series)):
        ax = fig.add_axes([107 / W, 1 - bot / H, 1.002 - 107 / W, (bot - top) / H])
        draw_panel(ax, b1, b2, show_months=(i == 2))
        axes.append(ax)

    # event labels in the bottom panel
    ax = axes[2]
    trans = mtransforms.blended_transform_factory(ax.transData, ax.transAxes)
    label_side = ['right', 'right', 'right', 'left', 'right']
    label_dx = [-2.5, -2.5, -1.0, 4.5, -2.5]
    label_y = [0.236, 0.236, 0.042, 0.042, 0.042]
    for d, txt, side, dx, yb in zip(event_days, event_labels, label_side, label_dx, label_y):
        ax.annotate(txt, xy=(d, yb), xycoords=trans, xytext=(dx, 0), textcoords='offset points',
                    rotation=90, ha=side, va='bottom', family=SANS, weight='bold', fontsize=12,
                    multialignment='left', linespacing=0.95, zorder=4)

    fig.text(20 / W, 1 - 329 / H, 'beam lifetime [h]', rotation=90, ha='center', va='center',
             family=SERIF, fontsize=21)

    key_boxes = [(356, 148, 119, 55), (355, 363, 118, 53), (357, 583, 118, 63)]
    key_rows = [(9.5, 28, 45), (9, 26, 45), (11, 34, 56)]
    for title, box, rows in zip(panel_titles, key_boxes, key_rows):
        draw_key(fig, title, box, rows)

    fig.savefig('out.png', dpi=100)
